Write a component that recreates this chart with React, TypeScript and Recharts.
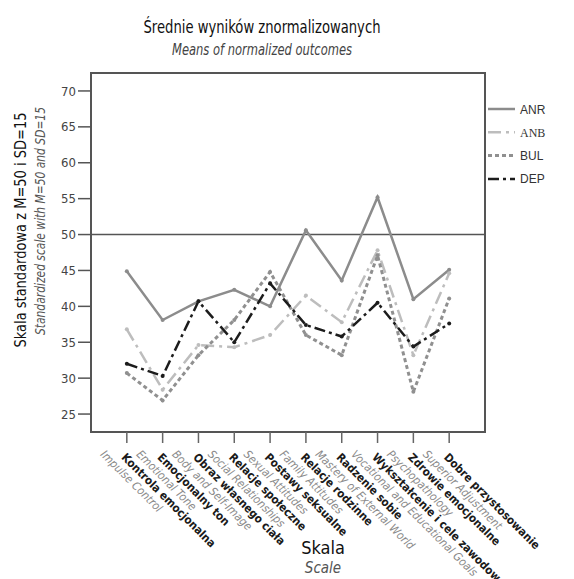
import React from 'react';
import {
  LineChart,
  Line,
  XAxis,
  YAxis,
  ReferenceLine,
  ReferenceArea
} from 'recharts';

// Scale names (Polish / English)
const categoriesPl = [
  'Kontrola emocjonalna',
  'Emocjonalny ton',
  'Obraz własnego ciała',
  'Relacje społeczne',
  'Postawy seksualne',
  'Relacje rodzinne',
  'Radzenie sobie',
  'Wykształcenie i cele zawodowe',
  'Zdrowie emocjonalne',
  'Dobre przystosowanie'
];
const categoriesEn = [
  'Impulse Control',
  'Emotional Tone',
  'Body and Self-Image',
  'Social Relationships',
  'Sexual Attitudes',
  'Family Attitudes',
  'Mastery of External World',
  'Vocational and Educational Goals',
  'Psychopathology',
  'Superior Adjustment'
];

// Group means
const anr = [44.9, 38.1, 40.7, 42.3, 40.0, 50.6, 43.6, 55.2, 41.0, 45.1];
const anb = [36.8, 28.4, 34.6, 34.3, 36.0, 41.5, 37.8, 47.8, 33.2, 44.6];
const bul = [30.7, 26.9, 33.2, 38.1, 44.8, 36.0, 33.2, 47.1, 28.1, 41.1];
const dep = [32.0, 30.3, 40.7, 35.0, 43.2, 37.4, 35.8, 40.5, 34.4, 37.6];

const yTicks = [25, 30, 35, 40, 45, 50, 55, 60, 65, 70];
const xTicks = categoriesPl.map((_, i) => i + 1);

const chartData = categoriesPl.map((c, i) => ({
  idx: i + 1,
  ANR: anr[i],
  ANB: anb[i],
  BUL: bul[i],
  DEP: dep[i]
}));

const FONT = "'Liberation Sans Narrow', 'DejaVu Sans Condensed', 'Noto Sans', sans-serif";

const series = [
  { key: 'ANR', color: '#8c8c8c', dash: undefined, width: 2.5, font: 'Liberation Sans, sans-serif' },
  { key: 'ANB', color: '#bdbdbd', dash: '13 5 3 5', width: 2.5, font: 'Liberation Serif, serif' },
  { key: 'BUL', color: '#909090', dash: '4 3', width: 3, font: 'Liberation Sans, sans-serif' },
  { key: 'DEP', color: '#1c1c1c', dash: '11 4 3 4', width: 2.5, font: 'Liberation Sans, sans-serif' }
];

const XTick = (props: any) => {
  const { x, y, payload } = props;
  const i = payload.value - 1;
  if (i < 0 || i >= categoriesPl.length) return null;
  return (
    <g>
      <text
        transform={`translate(${x - 27},${y + 10}) rotate(45)`}
        fontFamily={FONT}
        fontStyle="italic"
        fontSize={11.5}
        fill="#8a8a8a"
      >
        {categoriesEn[i]}
      </text>
      <text
        transform={`translate(${x - 6},${y + 13}) rotate(45)`}
        fontFamily={FONT}
        fontWeight="bold"
        fontSize={11.5}
        fill="#1a1a1a"
      >
        {categoriesPl[i]}
      </text>
    </g>
  );
};

const App: React.FC = () => {
  return (
    <div style={{ position: 'absolute', left: 0, top: 0, width: 574, height: 579, background: '#fff' }}>
      <LineChart
        width={574}
        height={579}
        data={chartData}
        margin={{ top: 73, right: 89, bottom: 117, left: 31 }}
      >
        <ReferenceArea
          x1={0}
          x2={11}
          y1={22.5}
          y2={72.5}
          fill="none"
          stroke="#555"
          strokeWidth={2}
          ifOverflow="visible"
        />
        <XAxis
          type="number"
          dataKey="idx"
          domain={[0, 11]}
          ticks={xTicks}
          interval={0}
          height={30}
          axisLine={false}
          tickSize={11}
          tickLine={{ stroke: '#666', strokeWidth: 1.5 }}
          tick={<XTick />}
        />
        <YAxis
          domain={[22.5, 72.5]}
          ticks={yTicks}
          width={60}
          axisLine={false}
          tickSize={13}
          tickMargin={2}
          tickLine={{ stroke: '#555', strokeWidth: 1.5 }}
          tick={{ fill: '#444', fontSize: 13, fontFamily: FONT }}
        />
        <ReferenceLine y={50} stroke="#555" strokeWidth={1.5} />
        {series.map(s => (
          <Line
            key={s.key}
            dataKey={s.key}
            type="linear"
            stroke={s.color}
            strokeWidth={s.width}
            strokeDasharray={s.dash}
            dot={{ r: 2, fill: s.color, stroke: 'none' }}
            isAnimationActive={false}
          />
        ))}
      </LineChart>
      <svg
        width={574}
        height={579}
        style={{ position: 'absolute', left: 0, top: 0, pointerEvents: 'none' }}
      >
        <text x={262} y={33} textAnchor="middle" fontSize={17} fontFamily={FONT} fill="#111" textLength={237} lengthAdjust="spacingAndGlyphs">
          Średnie wyników znormalizowanych
        </text>
        <text x={262} y={55} textAnchor="middle" fontSize={15} fontStyle="italic" fontFamily={FONT} fill="#444" textLength={180} lengthAdjust="spacingAndGlyphs">
          Means of normalized outcomes
        </text>
        <text transform="translate(26,230) rotate(-90)" textAnchor="middle" fontSize={16} fontFamily={FONT} fill="#111" textLength={235} lengthAdjust="spacingAndGlyphs">
          Skala standardowa z M=50 i SD=15
        </text>
        <text transform="translate(45,221) rotate(-90)" textAnchor="middle" fontSize={14} fontStyle="italic" fontFamily={FONT} fill="#555" textLength={228} lengthAdjust="spacingAndGlyphs">
          Standardized scale with M=50 and SD=15
        </text>
        <text x={323} y={554} textAnchor="middle" fontSize={18} fontFamily={FONT} fill="#111">
          Skala
        </text>
        <text x={323} y={573} textAnchor="middle" fontSize={15} fontStyle="italic" fontFamily={FONT} fill="#555">
          Scale
        </text>
        {/* legend */}
        {series.map((s, i) => (
          <g key={s.key} transform={`translate(488,${109 + i * 23.3})`}>
            <line x1={0} x2={27} y1={0} y2={0} stroke={s.color} strokeWidth={s.width} strokeDasharray={s.dash} />
            <text x={32} y={4.5} fontSize={12} fontFamily={s.font} fill="#333">
              {s.key}
            </text>
          </g>
        ))}
      </svg>
    </div>
  );
};

export default App;
